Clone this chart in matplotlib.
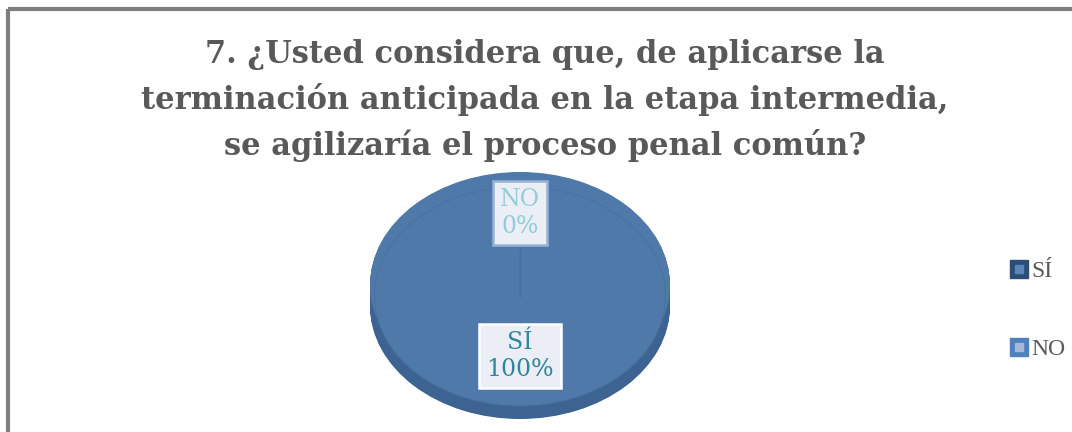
import matplotlib.pyplot as plt
from matplotlib.patches import Rectangle
from matplotlib.lines import Line2D
from matplotlib.legend_handler import HandlerTuple

categories = ['SÍ', 'NO']
values = [100, 0]
title = '7. ¿Usted considera que, de aplicarse la\nterminación anticipada en la etapa intermedia,\nse agilizaría el proceso penal común?'

top_colors = ['#4E79A9', '#4F81BD']
side_colors = ['#3C6391', '#3C6391']
legend_outer = ['#2C4D75', '#4F81BD']
legend_inner = ['#5B87B8', '#A4B8DA']

W, H = 1072, 432
fig = plt.figure(figsize=(W / 100, H / 100), dpi=100)
fig.patch.set_facecolor('white')

# chart frame (cut off on right and bottom)
frame = fig.add_axes([0, 0, 1, 1])
frame.set_xlim(0, W)
frame.set_ylim(H, 0)
frame.axis('off')
frame.add_patch(Rectangle((8, 9), W + 20, H + 20, fill=False,
                          edgecolor='#7F7F7F', lw=3))

fig.text(545 / W, (H - 100) / H, title, ha='center', va='center',
         fontsize=22, fontweight='bold', color='#595959',
         family='DejaVu Serif', linespacing=1.5)

# pie axes: x 370..670, y 172..420 (pixels)
left, right, top, bottom = 370, 670, 172, 420
ax = fig.add_axes([left / W, (H - bottom) / H, (right - left) / W, (bottom - top) / H])
ry = 113
ax.axis('off')

depth = 21 / ry
steps = 24
for i in range(steps, 0, -1):
    d = depth * i / steps
    ax.pie(values, colors=side_colors, startangle=90, counterclock=False,
           center=(0, -d), radius=1, frame=True,
           wedgeprops=dict(linewidth=0))
ax.pie(values, colors=top_colors, startangle=90, counterclock=False,
       center=(0, 0), radius=1, frame=True,
       wedgeprops=dict(linewidth=0))
# faint inner rim
ax.pie(values, colors=top_colors, startangle=90, counterclock=False,
       center=(0, -0.1), radius=0.97, frame=True,
       wedgeprops=dict(linewidth=0.6, edgecolor='#47709E'))
ax.set_xlim(-1, 1)
ax.set_ylim(1 - (bottom - top) / ry, 1)
ax.set_aspect('auto')

# leader line for NO label
ax.plot([0, 0], [(285 - 250) / ry, (285 - 297) / ry], color='#46709E', lw=0.8)

label_pos = [(0.0, (285 - 356) / ry), (0.0, (285 - 213) / ry)]
label_colors = ['#31859C', '#92CDDC']
label_edges = ['#FFFFFF', '#95B3D7']
for cat, val, (lx, ly), tc, ec in zip(categories, values, label_pos,
                                      label_colors, label_edges):
    ax.text(lx, ly, f'{cat}\n{val}%', ha='center', va='center', fontsize=17,
            color=tc, family='DejaVu Serif', linespacing=1.2,
            bbox=dict(boxstyle='square,pad=0.3', facecolor='#EBEEF5',
                      edgecolor=ec, lw=1.8))

handles = []
for oc, ic in zip(legend_outer, legend_inner):
    outer = Line2D([], [], marker='s', ls='none', markersize=13,
                   markerfacecolor=oc, markeredgecolor=oc)
    inner = Line2D([], [], marker='s', ls='none', markersize=6,
                   markerfacecolor=ic, markeredgecolor=ic)
    handles.append((outer, inner))
fig.legend(handles, categories, handler_map={tuple: HandlerTuple(ndivide=1)},
           loc='center left', bbox_to_anchor=(997 / W, (H - 310.5) / H),
           frameon=False, handlelength=0.9, handletextpad=0.05,
           labelspacing=2.4, prop=dict(family='Liberation Serif', size=17),
           labelcolor='#595959', borderpad=0)

fig.savefig('out.png', dpi=100)
